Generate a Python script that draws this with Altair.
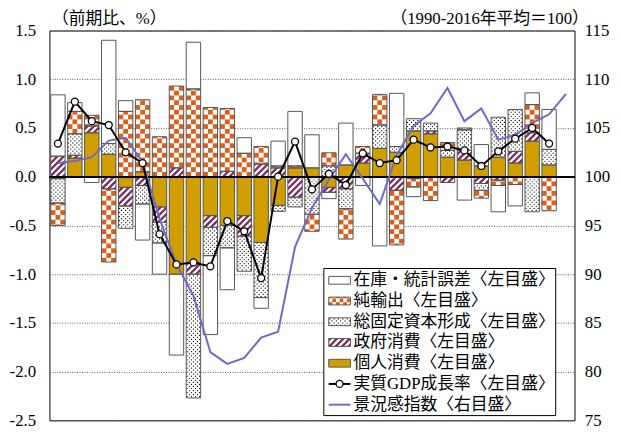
import math
import pandas as pd
import altair as alt

# ---------------- data ----------------
series_names = ["在庫・統計誤差", "純輸出", "総固定資本形成", "政府消費", "個人消費"]
gdp_name = "実質GDP成長率"
di_name = "景況感指数"
legend_labels = [s + "〈左目盛〉" for s in series_names] + [gdp_name + "〈左目盛〉", di_name + "〈右目盛〉"]

n_periods = 31  # quarters on the x axis (bars for the first 30)

consumption = [-0.02, 0.19, 0.45, 0.23, -0.11, 0.05, -0.31, -1.00, -0.88, -0.40,
               -0.50, -0.40, -0.675, -0.295, 0.09, 0.09, -0.11, 0.12, 0.14, 0.29,
               0.25, 0.47, 0.44, 0.20, 0.17, 0.11, 0.20, 0.14, 0.365, 0.12]
government = [0.21, 0.03, 0.07, -0.125, -0.19, -0.09, -0.16, 0.09, -0.12, -0.12,
              0.055, -0.21, 0.13, 0.09, -0.21, 0.0, -0.05, -0.125, 0.10, 0.0,
              -0.14, -0.02, 0.03, -0.06, 0.10, -0.07, -0.035, 0.12, 0.085, 0.0]
investment = [-0.25, 0.22, 0.0, 0.11, -0.23, -0.19, -0.21, 0.0, -1.27, -0.29,
              -0.23, -0.36, -0.565, -0.06, -0.10, -0.385, 0.11, -0.205, 0.0, 0.24,
              0.06, 0.125, 0.08, 0.07, 0.21, -0.07, 0.41, 0.43, -0.36, 0.16]
net_exports = [-0.23, 0.23, 0.11, -0.75, 0.67, 0.74, 0.41, 0.84, 0.90, 0.71,
               0.645, 0.24, 0.18, 0.02, 0.02, -0.175, 0.135, -0.31, 0.07, 0.315,
               -0.56, -0.085, -0.245, 0.08, 0.02, -0.08, -0.055, -0.08, 0.29, -0.35]
inventory = [0.63, 0.09, -0.06, 1.06, 0.11, -0.37, -0.32, -0.83, 0.48, -0.81,
             -0.43, 0.16, -0.11, 0.255, 0.56, 0.34, -0.065, 0.43, -0.09, -0.71,
             0.545, -0.10, 0.0, 0.0, -0.24, 0.22, -0.27, -0.22, 0.12, 0.41]
gdp = [0.34, 0.77, 0.57, 0.53, 0.25, 0.14, -0.59, -0.90, -0.88, -0.92,
       -0.455, -0.56, -1.04, 0.00, 0.36, -0.13, 0.03, -0.085, 0.24, 0.14,
       0.17, 0.38, 0.30, 0.31, 0.27, 0.11, 0.26, 0.39, 0.50, 0.34]
sentiment = [101.4, 101.6, 102.0, 103.7, 104.0, 101.5, 95.7, 91.0, 87.8, 82.0,
             80.8, 81.4, 83.5, 84.1, 92.8, 96.8, 99.7, 102.3, 99.8, 97.2,
             102.2, 105.2, 106.5, 109.1, 105.7, 107.0, 103.8, 104.3, 105.5, 106.4,
             108.5]

# ---------------- styles / layout ----------------
W, H = 532, 395
Y_DOM = [-2.5, 1.5]
R_DOM = [75, 115]
PXX = W / n_periods                  # px per period
PXY = H / (Y_DOM[1] - Y_DOM[0])      # px per percentage point
HALF = 0.425                         # half bar width, in periods

GOLD = "#D19E00"
ORANGE = "#D9601E"
PURPLE = "#7B2D63"
BLUE = "#6B6BC8"
EDGE = "#555555"
SERIF = "Liberation Serif, Noto Sans CJK JP"

fill_of = {"在庫・統計誤差": "white", "純輸出": "white", "総固定資本形成": "white",
           "政府消費": "white", "個人消費": GOLD}

# ---------------- stacked segments ----------------
stack_order = [("個人消費", consumption), ("政府消費", government),
               ("総固定資本形成", investment), ("純輸出", net_exports),
               ("在庫・統計誤差", inventory)]
segs = []
for i in range(len(gdp)):
    pos = neg = 0.0
    for name, vals in stack_order:
        v = vals[i]
        if v == 0:
            continue
        if v > 0:
            lo, hi = pos, pos + v
            pos += v
        else:
            lo, hi = neg + v, neg
            neg += v
        segs.append(dict(series=name, x0=i - HALF, x1=i + HALF, lo=lo, hi=hi, kind="bar"))

# legend geometry (in the chart's data units)
LEG_BOX = dict(x0=15.70, x1=29.39, lo=-2.451, hi=-0.942)
SYM_X0, SYM_X1 = 15.99, 17.27
TXT_X = 17.45
ROW0, ROW_STEP, SYM_H = -1.063, 0.2127, 0.040
row_y = [ROW0 - k * ROW_STEP for k in range(len(legend_labels))]
for k, name in enumerate(series_names):
    segs.append(dict(series=name, x0=SYM_X0, x1=SYM_X1, lo=row_y[k] - SYM_H,
                     hi=row_y[k] + SYM_H, kind="legend"))
seg_df = pd.DataFrame(segs)
seg_df["fill"] = seg_df["series"].map(fill_of)


# ---------------- pattern helpers ----------------
def checker(s, ncol, rh):
    out = []
    cw = (s["x1"] - s["x0"]) / ncol
    for k in range(math.floor(s["lo"] / rh), math.ceil(s["hi"] / rh)):
        a, b = max(k * rh, s["lo"]), min((k + 1) * rh, s["hi"])
        if b - a < 1e-9:
            continue
        for j in range(ncol):
            if (k + j) % 2 == 0:
                out.append(dict(x0=s["x0"] + j * cw, x1=s["x0"] + (j + 1) * cw, lo=a, hi=b))
    return out


def dots(s, ncol, rh):
    out = []
    cw = (s["x1"] - s["x0"]) / ncol
    for k in range(math.floor(s["lo"] / rh), math.ceil(s["hi"] / rh)):
        yc = (k + 0.5) * rh
        if yc <= s["lo"] + 0.004 or yc >= s["hi"] - 0.004:
            continue
        for j in range(ncol):
            if (k + j) % 2 == 0:
                out.append(dict(x=s["x0"] + (j + 0.5) * cw, y=yc))
    return out


def hatch(s, sid0, period=6.5, width=3.3):
    out = []
    X0, X1 = s["x0"] * PXX, s["x1"] * PXX
    Y0, Y1 = s["lo"] * PXY, s["hi"] * PXY
    sid = sid0
    for k in range(math.floor((Y0 - X1 - width) / period) - 1, math.ceil((Y1 - X0) / period) + 1):
        c = k * period
        xa, xb = max(X0, Y0 - c - width), min(X1, Y1 - c)
        if xb - xa <= 1e-6:
            continue
        bps = {xa, xb}
        for b in (Y0 - c, Y1 - c, Y0 - c - width, Y1 - c - width):
            if xa < b < xb:
                bps.add(b)
        for X in sorted(bps):
            lo = max(Y0, X + c)
            hi = min(Y1, X + c + width)
            out.append(dict(sid=sid, x=X / PXX, lo=lo / PXY, hi=hi / PXY))
        sid += 1
    return out, sid


chk_rows, dot_rows, hat_rows = [], [], []
sid = 0
for _, s in seg_df.iterrows():
    leg = s["kind"] == "legend"
    if s["series"] == "純輸出":
        chk_rows += checker(s, 6 if leg else 3, 0.039 if leg else 0.049)
    elif s["series"] == "総固定資本形成":
        dot_rows += dots(s, 10 if leg else 7, 0.021)
    elif s["series"] == "政府消費":
        r, sid = hatch(s, sid)
        hat_rows += r
chk_df = pd.DataFrame(chk_rows)
dot_df = pd.DataFrame(dot_rows)
hat_df = pd.DataFrame(hat_rows)

line_df = pd.DataFrame({"x": list(range(len(gdp))), "v": gdp})
di_df = pd.DataFrame({"x": list(range(n_periods)), "v": sentiment})
leg_txt = pd.DataFrame({"label": legend_labels, "y": row_y, "x": TXT_X})
box_df = pd.DataFrame([LEG_BOX])
leg_lines = pd.DataFrame({"x0": [SYM_X0, SYM_X0], "x1": [SYM_X1, SYM_X1],
                          "y": [row_y[5], row_y[6]], "col": ["black", BLUE]})
leg_pt = pd.DataFrame({"x": [(SYM_X0 + SYM_X1) / 2], "y": [row_y[5]]})

# ---------------- scales / axes ----------------
xs = alt.Scale(domain=[-0.5, n_periods - 0.5], nice=False, zero=False)
ys = alt.Scale(domain=Y_DOM, nice=False, zero=False)
rs = alt.Scale(domain=R_DOM, nice=False, zero=False)

axis_l = alt.Axis(orient="left", values=[-2.5, -2.0, -1.5, -1.0, -0.5, 0.0, 0.5, 1.0, 1.5],
                  labelExpr="(datum.value < 0 ? '-' : '') + format(abs(datum.value), '.1f')",
                  grid=True, gridDash=[1, 1.5], gridColor="#555555", gridWidth=1,
                  ticks=False, domain=False, labelPadding=14, labelFont="Liberation Serif",
                  labelFontSize=17, labelColor="black",
                  title="（前期比、%）", titleAngle=0, titleX=2, titleY=-7, titleAlign="left",
                  titleBaseline="alphabetic", titleFont=SERIF, titleFontSize=17,
                  titleFontWeight="normal", titleColor="black")
axis_r = alt.Axis(orient="right", values=list(range(75, 116, 5)), grid=False, ticks=False,
                  domain=False, labelPadding=10, labelFont="Liberation Serif",
                  labelFontSize=17, labelColor="black",
                  title="（1990-2016年平均＝100）", titleAngle=0, titleX=14, titleY=-7,
                  titleAlign="right", titleBaseline="alphabetic", titleFont=SERIF,
                  titleFontSize=17, titleFontWeight="normal", titleColor="black")


def X(f):
    return alt.X(f, scale=xs, axis=None)


def Y(f):
    return alt.Y(f, scale=ys, axis=axis_l, stack=None)


def Yn(f):
    return alt.Y(f, scale=ys, axis=None, stack=None)


box = alt.Chart(box_df).mark_rect(fill="white", stroke="black", strokeWidth=1).encode(
    x=X("x0:Q"), x2="x1:Q", y=Y("lo:Q"), y2="hi:Q")
fills = alt.Chart(seg_df).mark_rect(strokeWidth=0).encode(
    x=X("x0:Q"), x2="x1:Q", y=Y("lo:Q"), y2="hi:Q",
    fill=alt.Fill("fill:N", scale=None))
chk = alt.Chart(chk_df).mark_rect(fill=ORANGE, strokeWidth=0).encode(
    x=X("x0:Q"), x2="x1:Q", y=Y("lo:Q"), y2="hi:Q")
dts = alt.Chart(dot_df).mark_circle(color="black", size=1.6, opacity=1).encode(
    x=X("x:Q"), y=Y("y:Q"))
hat = alt.Chart(hat_df).mark_area(orient="vertical", color=PURPLE, interpolate="linear").encode(
    x=X("x:Q"), y=Y("lo:Q"), y2="hi:Q", detail="sid:N")
outl = alt.Chart(seg_df).mark_rect(fill="transparent", stroke=EDGE, strokeWidth=1).encode(
    x=X("x0:Q"), x2="x1:Q", y=Y("lo:Q"), y2="hi:Q")
zero = alt.Chart(line_df).mark_rule(color="black", strokeWidth=1).encode(y=alt.datum(0, scale=ys, axis=axis_l))
ltxt = alt.Chart(leg_txt).mark_text(align="left", baseline="middle", font=SERIF,
                                    fontSize=17, color="black").encode(
    x=X("x:Q"), y=Y("y:Q"), text="label:N")
llines = alt.Chart(leg_lines).mark_rule(strokeWidth=2).encode(
    x=X("x0:Q"), x2="x1:Q", y=Y("y:Q"), color=alt.Color("col:N", scale=None))
lpt = alt.Chart(leg_pt).mark_point(filled=True, fill="white", stroke="black",
                                   strokeWidth=1.3, size=50, opacity=1, shape="circle").encode(
    x=X("x:Q"), y=Y("y:Q"))

left = alt.layer(box, fills, chk, dts, hat, outl, zero, ltxt, llines, lpt)

di_line = alt.Chart(di_df).mark_line(color=BLUE, strokeWidth=2).encode(
    x=X("x:Q"), y=alt.Y("v:Q", scale=rs, axis=axis_r))

gdp_line = alt.Chart(line_df).mark_line(color="black", strokeWidth=2).encode(
    x=X("x:Q"), y=Yn("v:Q"))
gdp_pts = alt.Chart(line_df).mark_point(filled=True, fill="white", stroke="black",
                                        strokeWidth=1.3, size=50, opacity=1, shape="circle").encode(
    x=X("x:Q"), y=Yn("v:Q"))
top = alt.layer(gdp_line, gdp_pts)

chart = alt.layer(left, di_line, top).resolve_scale(y="independent").properties(
    width=W, height=H,
    autosize=alt.AutoSizeParams(type="none"),
    padding={"left": 42, "top": 20, "right": 38, "bottom": 9},
).configure_view(stroke="black", strokeWidth=1)

chart.save("out.html", embed_options={"renderer": "svg", "actions": False})
